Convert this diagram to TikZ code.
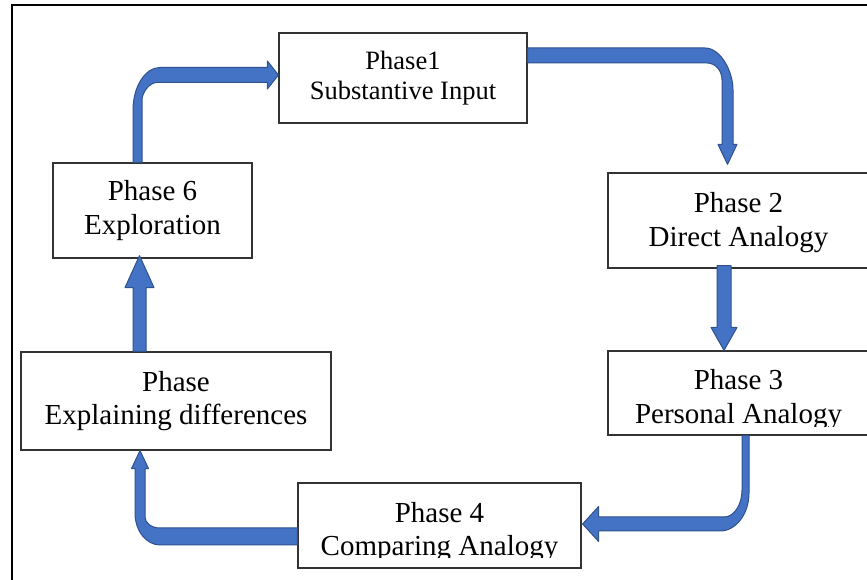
\documentclass[tikz,border=0pt]{standalone}
\usepackage{fontspec}
\setmainfont{Liberation Serif}
\usetikzlibrary{calc}
\definecolor{arrfill}{HTML}{4472C4}
\definecolor{arredge}{HTML}{2F528F}
\begin{document}
\begin{tikzpicture}[x=1pt,y=1pt,
  box/.style={draw=black!80, line width=1.2pt, fill=white, inner sep=0pt},
  txt/.style={align=center, inner sep=0pt, font=\fontsize{29}{33.5}\selectfont},
  smalltxt/.style={align=center, inner sep=0pt, font=\fontsize{26.5}{30.5}\selectfont},
  blockarrow/.style={fill=arrfill, draw=arredge, line width=1pt, line join=round}]
\useasboundingbox (0,0) rectangle (867,580);
\clip (0,0) rectangle (867,580);
% outer frame
\draw[line width=2pt] (12,-5) -- (12,575) -- (880,575);

% boxes
\node[box, minimum width=248pt, minimum height=90pt] (p1) at (403,502) {};
\node[smalltxt] (p1t) at (p1) {Phase1\\Substantive Input};

\node[box, minimum width=261pt, minimum height=95pt] (p2) at (738.5,359.5) {};
\node[txt] (p2t) at ($(p2)+(0,-2)$) {Phase 2\\Direct Analogy};

\node[box, minimum width=261pt, minimum height=84pt] (p3) at (738.5,187) {};
\begin{scope}
  \clip ($(p3.south west)+(0,9)$) rectangle (p3.north east);
  \node[txt] (p3t) at ($(p3)+(0,-6.5)$) {Phase 3\\Personal Analogy};
\end{scope}

\node[box, minimum width=283pt, minimum height=85pt] (p4) at (439.5,54.5) {};
\begin{scope}
  \clip ($(p4.south west)+(0,11)$) rectangle (p4.north east);
  \node[txt] (p4t) at ($(p4)+(0,-6.5)$) {Phase 4\\Comparing Analogy};
\end{scope}

\node[box, minimum width=310pt, minimum height=98pt] (p5) at (176,179) {};
\node[txt] (p5t) at (p5) {Phase\\Explaining differences};

\node[box, minimum width=199pt, minimum height=95pt] (p6) at (152.5,369.5) {};
\node[txt] (p6t) at (p6) {Phase 6\\Exploration};

% connector end points
\coordinate (s1) at ($(p6.north)+(-15,0)$);
\coordinate (t1) at ($(p1.west)+(0,3)$);
\coordinate (s2) at ($(p1.east)+(0,22.5)$);
\coordinate (t2) at ($(p2.north)+(-11,8)$);
\coordinate (s3) at ($(p2.south)+(-14.5,3)$);
\coordinate (t3) at ($(p3.north)+(-14.5,0)$);
\coordinate (s4) at ($(p3.south)+(7,0)$);
\coordinate (t4) at ($(p4.east)+(1,1.5)$);
\coordinate (s5) at ($(p4.west)+(0,-11)$);
\coordinate (t5) at ($(p5.south)+(-36,0)$);
\coordinate (s6) at ($(p5.north)+(-36.5,0)$);
\coordinate (t6) at ($(p6.south)+(-13,3)$);

% arrow 1: Phase 6 -> Phase 1 (up, then right)
\path[blockarrow] let \p1=(s1), \p2=(t1) in
  (\x1-4.5pt,\y1) -- (\x1-4.5pt,\y2-35pt)
  .. controls (\x1-4.5pt,\y2-12pt) and (\x1+7.5pt,\y2+7.5pt) .. (\x1+22.5pt,\y2+7.5pt)
  -- (\x2-11pt,\y2+7.5pt) -- (\x2-11pt,\y2+14pt) -- (\x2,\y2) -- (\x2-11pt,\y2-14pt)
  -- (\x2-11pt,\y2-7.5pt) -- (\x1+19.5pt,\y2-7.5pt)
  .. controls (\x1+12pt,\y2-7.5pt) and (\x1+4.5pt,\y2-17.4pt) .. (\x1+4.5pt,\y2-25pt)
  -- (\x1+4.5pt,\y1) -- cycle;

% arrow 2: Phase 1 -> Phase 2 (right, then down)
\path[blockarrow] let \p1=(s2), \p2=(t2) in
  (\x1,\y1+7.5pt) -- (\x2-22.5pt,\y1+7.5pt)
  .. controls (\x2-7pt,\y1+7.5pt) and (\x2+5.5pt,\y1-15.5pt) .. (\x2+5.5pt,\y1-34.5pt)
  -- (\x2+5.5pt,\y2+20pt) -- (\x2+9.5pt,\y2+20pt) -- (\x2,\y2) -- (\x2-9.5pt,\y2+20pt)
  -- (\x2-5.5pt,\y2+20pt) -- (\x2-5.5pt,\y1-24.5pt)
  .. controls (\x2-5.5pt,\y1-15pt) and (\x2-12.2pt,\y1-7.5pt) .. (\x2-20.5pt,\y1-7.5pt)
  -- (\x1,\y1-7.5pt) -- cycle;

% arrow 3: Phase 2 -> Phase 3 (down)
\path[blockarrow] let \p1=(s3), \p2=(t3) in
  (\x1-7pt,\y1) -- (\x1-7pt,\y2+23pt) -- (\x1-13pt,\y2+23pt) -- (\x2,\y2)
  -- (\x1+13pt,\y2+23pt) -- (\x1+7pt,\y2+23pt) -- (\x1+7pt,\y1) -- cycle;

% arrow 4: Phase 3 -> Phase 4 (down, then left)
\path[blockarrow] let \p1=(s4), \p2=(t4) in
  (\x1+3.5pt,\y1) -- (\x1+3.5pt,\y2+31pt)
  .. controls (\x1+3.5pt,\y2+10pt) and (\x1-9.5pt,\y2-7pt) .. (\x1-25.5pt,\y2-7pt)
  -- (\x2+16pt,\y2-7pt) -- (\x2+16pt,\y2-17.5pt) -- (\x2,\y2) -- (\x2+16pt,\y2+17.5pt)
  -- (\x2+16pt,\y2+7pt) -- (\x1-21.5pt,\y2+7pt)
  .. controls (\x1-11.6pt,\y2+7pt) and (\x1-3.5pt,\y2+19pt) .. (\x1-3.5pt,\y2+34pt)
  -- (\x1-3.5pt,\y1) -- cycle;

% arrow 5: Phase 4 -> Phase (left, then up)
\path[blockarrow] let \p1=(s5), \p2=(t5) in
  (\x1,\y1-8.5pt) -- (\x2+20pt,\y1-8.5pt)
  .. controls (\x2+6.2pt,\y1-8.5pt) and (\x2-5pt,\y1+5.8pt) .. (\x2-5pt,\y1+23.5pt)
  -- (\x2-5pt,\y2-18pt) -- (\x2-8.5pt,\y2-18pt) -- (\x2,\y2) -- (\x2+8.5pt,\y2-18pt)
  -- (\x2+5pt,\y2-18pt) -- (\x2+5pt,\y1+19.5pt)
  .. controls (\x2+5pt,\y1+13.5pt) and (\x2+11.7pt,\y1+8.5pt) .. (\x2+20pt,\y1+8.5pt)
  -- (\x1,\y1+8.5pt) -- cycle;

% arrow 6: Phase -> Phase 6 (up)
\path[blockarrow] let \p1=(s6), \p2=(t6) in
  (\x1-6.5pt,\y1) -- (\x1-6.5pt,\y2-32pt) -- (\x1-14.5pt,\y2-32pt) -- (\x2,\y2)
  -- (\x1+14.5pt,\y2-32pt) -- (\x1+6.5pt,\y2-32pt) -- (\x1+6.5pt,\y1) -- cycle;
\end{tikzpicture}
\end{document}
